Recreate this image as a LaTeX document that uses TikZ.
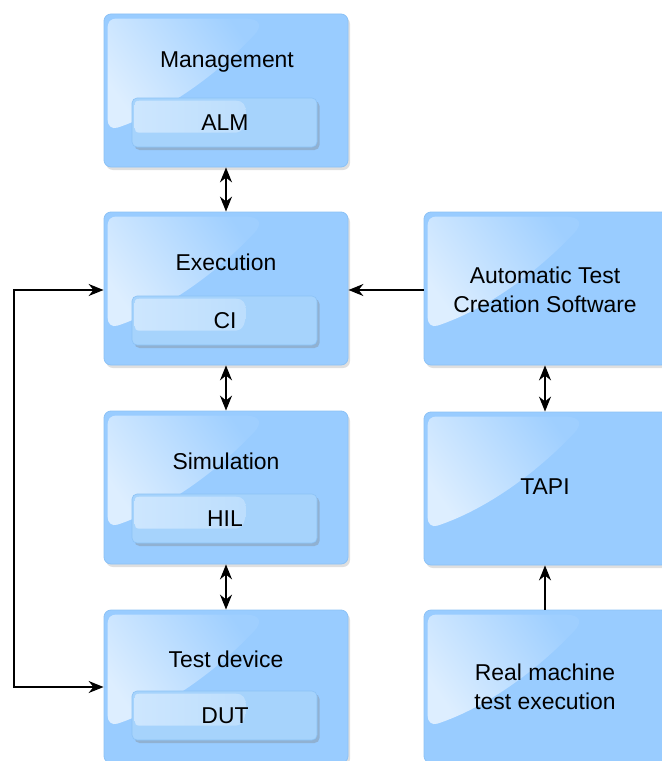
\documentclass[tikz,border=0pt]{standalone}
\usepackage{fontspec}
\setmainfont{Liberation Sans}
\usetikzlibrary{arrows.meta,shadows}

\definecolor{boxblue}{HTML}{99CCFF}
\definecolor{boxedge}{HTML}{8CC2F6}
\definecolor{glosstop}{HTML}{DDEEFF}
\definecolor{innerblue}{HTML}{A6D3FC}
\definecolor{innergloss}{HTML}{CDE6FE}

\tikzset{
  bigbox/.style={draw=boxedge, line width=0.8bp, fill=boxblue, rounded corners=7bp,
    minimum width=244bp, minimum height=153bp, inner sep=0pt,
    drop shadow={shadow xshift=2bp, shadow yshift=-3bp, opacity=0.25}},
  innerbox/.style={draw=boxedge, line width=0.6bp, fill=innerblue, rounded corners=5bp,
    minimum width=185bp, minimum height=49bp, inner sep=0pt,
    drop shadow={shadow xshift=2.5bp, shadow yshift=-3bp, opacity=0.35}},
  lbl/.style={font=\fontsize{23}{29}\selectfont, text=black, align=center, inner sep=0pt},
  conn/.style={draw=black, line width=1.5bp},
  tip/.style={-{Stealth[length=15bp,width=12bp]}},
  dtip/.style={{Stealth[length=15bp,width=12bp]}-{Stealth[length=15bp,width=12bp]}},
  % glossy highlight in the upper-left part of a big box
  gloss/.pic={
    \shade[left color=glosstop, right color=boxblue!94!white, shading angle=125]
      (4,16) .. controls (4,8) and (6,5) .. (14,5) -- (142,5)
      .. controls (156,5) and (160,12) .. (150,22)
      .. controls (112,62) and (62,98) .. (14,114)
      .. controls (8,116) and (4,112) .. (4,106) -- cycle;
  },
  % glossy highlight on the left part of an inner box
  igloss/.pic={
    \shade[left color=innergloss, right color=innerblue!75!white]
      (3,8) .. controls (3,4) and (4,3) .. (8,3) -- (104,3)
      .. controls (112,3) and (114,8) .. (114,14)
      .. controls (114,28) and (112,34) .. (104,35) -- (8,35)
      .. controls (4,35) and (3,33) .. (3,30) -- cycle;
  }
}

\begin{document}
\begin{tikzpicture}[x=1bp, y=-1bp]
\useasboundingbox (0,0) rectangle (662,761);
\fill[white] (0,0) rectangle (662,761);
\clip (0,0) rectangle (662,761);

% left column
\node[bigbox] (mgmt) at (226,90.5) {};
\node[bigbox] (exec) at (226,288.5) {};
\node[bigbox] (sim)  at (226,487.5) {};
\node[bigbox] (dev)  at (226,686.5) {};
% right column
\node[bigbox] (atcs) at (546,288.5) {};
\node[bigbox] (tapi) at (546,488.5) {};
\node[bigbox] (real) at (546,686.5) {};

\foreach \b in {mgmt,exec,sim,dev,atcs,tapi,real}
  \pic at (\b.north west) {gloss};

% inner boxes
\node[innerbox] (alm) at (224.5,122.5) {};
\node[innerbox] (ci)  at (224.5,320.5) {};
\node[innerbox] (hil) at (224.5,518.5) {};
\node[innerbox] (dut) at (224.5,715.5) {};
\foreach \b in {alm,ci,hil,dut}
  \pic at (\b.north west) {igloss};

% texts
\node[lbl] (mgmtT) at (227,62)  {Management};
\node[lbl] (almT)  at (225,123) {ALM};
\node[lbl] (execT) at (226,262) {Execution};
\node[lbl] (ciT)   at (225,321) {CI};
\node[lbl] (simT)  at (226,461) {Simulation};
\node[lbl] (hilT)  at (225,519) {HIL};
\node[lbl] (devT)  at (226,659) {Test device};
\node[lbl] (dutT)  at (225,716) {DUT};
\node[lbl] (atcsT) at (545,290) {Automatic Test\\Creation Software};
\node[lbl] (tapiT) at (545,487) {TAPI};
\node[lbl] (realT) at (545,687) {Real machine\\test execution};

% connectors
\draw[conn,dtip] (mgmt.south) -- (exec.north);
\draw[conn,dtip] (exec.south) -- (sim.north);
\draw[conn,dtip] (sim.south) -- (dev.north);
\draw[conn,dtip] ([xshift=-1bp]tapi.north) -- ([xshift=-1bp]atcs.south);
\draw[conn,tip] ([xshift=-1bp]real.north) -- ([xshift=-1bp]tapi.south);
\draw[conn,tip] ([yshift=-1.5bp]atcs.west) -- ([yshift=-1.5bp]exec.east);
\coordinate (loopT) at (14,290);
\coordinate (loopB) at (14,687);
\draw[conn,dtip] (exec.west |- loopT) -- (loopT) -- (loopB) -- (dev.west |- loopB);
\end{tikzpicture}
\end{document}
